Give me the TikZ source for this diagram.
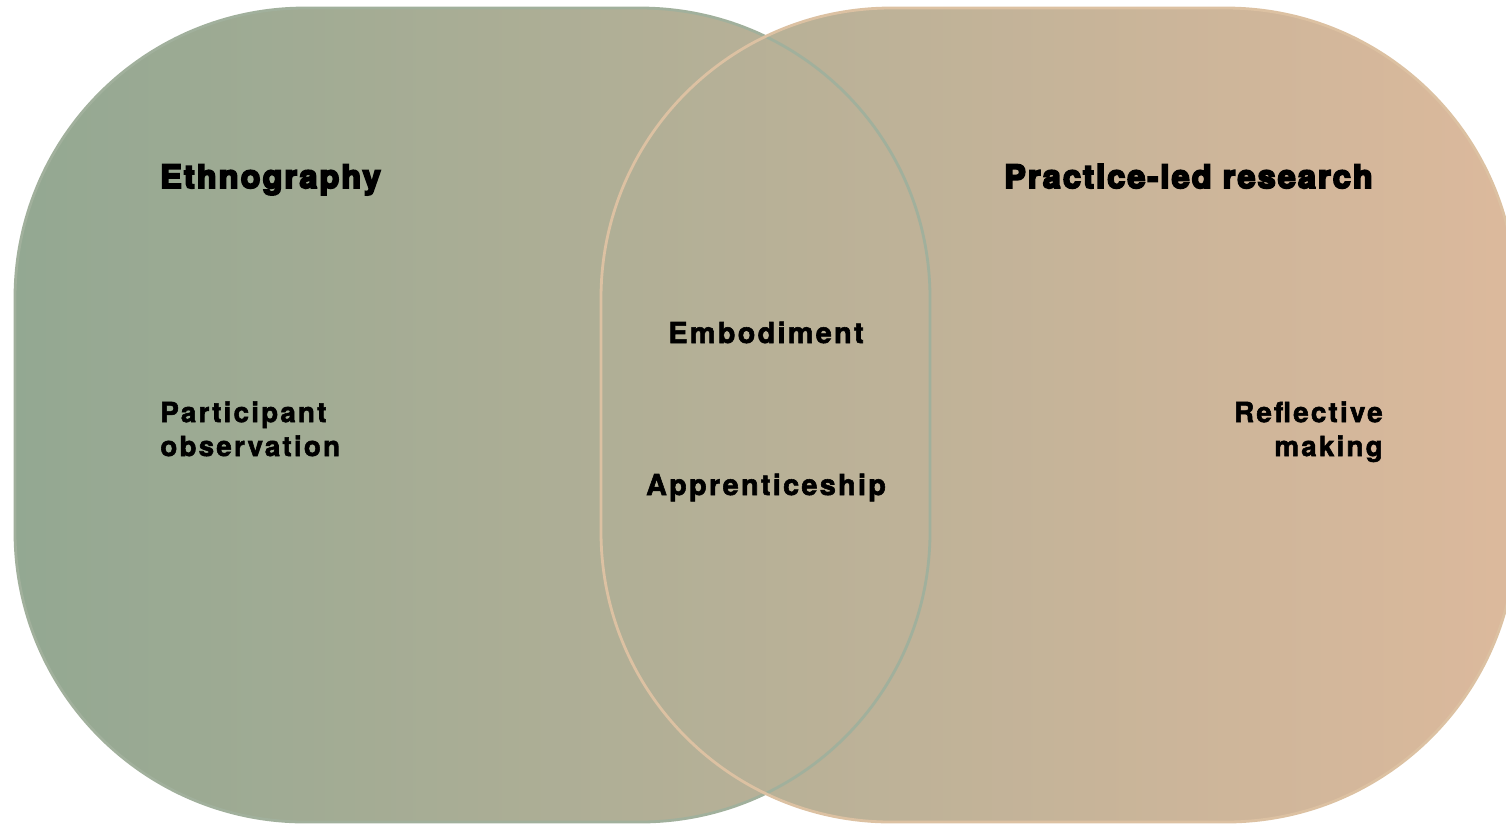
\documentclass[tikz,border=0pt]{standalone}
\usepackage{fontspec}
\usepackage{xcolor}
\usepackage{tikz}
\setmainfont{TeX Gyre Heros}
\newfontfamily\heavyfont{texgyreheros-bold.otf}[FakeBold=6, LetterSpace=7]
\newfontfamily\labelfont{texgyreheros-bold.otf}[FakeBold=2, LetterSpace=8]
\definecolor{sage}{HTML}{93A892}
\definecolor{dune}{HTML}{B8B398}
\definecolor{sand}{HTML}{DCB99C}
\definecolor{sageline}{HTML}{A1B09C}
\definecolor{sandline}{HTML}{DCC1A2}
\tikzset{
	field/.style={rounded corners=5.8cm},
	heading/.style={inner sep=0pt, font=\heavyfont\fontsize{18.3pt}{22pt}\selectfont},
	term/.style={inner sep=0pt, font=\labelfont\fontsize{15.8pt}{19.3pt}\selectfont},
	core/.style={term, font=\labelfont\fontsize{16.4pt}{19.3pt}\selectfont}
}

\begin{document}
\begin{tikzpicture}[x=0.02cm, y=-0.02cm]
	\clip (0,0) rectangle (1506,823);
	\shade[field, left color=sage, middle color=dune, right color=sand] (15,8) rectangle (930,822) (601,8) rectangle (1516,822);
	\draw[field, sageline, line width=1.6pt] (15,8) rectangle (930,822);
	\draw[field, sandline, line width=1.6pt] (601,8) rectangle (1516,822);
	\node[heading, anchor=base west] (ethno) at (160,188) {Ethnography};
	\node[heading, anchor=base east] (practice) at (1373,188) {Practice-led research};
	\node[core, anchor=base] (embody) at (766,343) {Embodiment};
	\node[core, anchor=base] (apprentice) at (766,495) {Apprenticeship};
	\node[term, anchor=base west, align=left] (observe) at (160,456) {Participant\\observation};
	\node[term, anchor=base east, align=right] (reflect) at (1383,456) {Reflective\\making};
\end{tikzpicture}
\end{document}
